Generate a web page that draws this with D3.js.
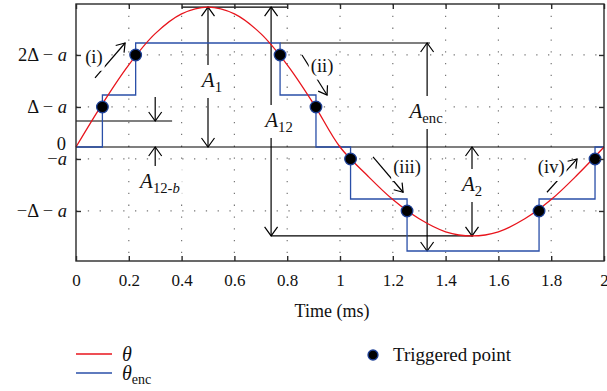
<!DOCTYPE html>
<html><head><meta charset="utf-8">
<script src="https://cdn.jsdelivr.net/npm/d3@7"></script>
<style>
body{margin:0;background:#fff}
svg{display:block}
text{font-family:"Liberation Serif","Times New Roman",serif;fill:#111}
</style></head>
<body><svg id="c" width="607" height="391"></svg>
<script>
// ---------- data ----------
const xTickValues = [0, 0.2, 0.4, 0.6, 0.8, 1, 1.2, 1.4, 1.6, 1.8, 2];
const xTickLabels = ["0", "0.2", "0.4", "0.6", "0.8", "1", "1.2", "1.4", "1.6", "1.8", "2"];
const aOffset = 0.23;
const yTickValues = [2 - aOffset, 1 - aOffset, -aOffset, -1 - aOffset];
const yTickPrefix = ["2Δ − ", "Δ − ", "−", "−Δ − "];
// theta (red), in units of Δ
const thetaTime = [0, 0.1, 0.2, 0.3, 0.4, 0.5, 0.6, 0.7, 0.8, 0.9, 1.0, 1.1, 1.2, 1.3, 1.4, 1.5, 1.6, 1.7, 1.8, 1.9, 2.0];
const thetaValue = [0, 0.83, 1.58, 2.18, 2.56, 2.69, 2.56, 2.18, 1.58, 0.83, 0, -0.53, -1.01, -1.38, -1.63, -1.71, -1.63, -1.38, -1.01, -0.53, 0];
// theta_enc (blue) step signal
const encTime = [0, 0.1, 0.226, 0.773, 0.909, 1.04, 1.254, 1.754, 1.966, 2.0];
const encLevel = [0, 1, 2, 1, 0, -1, -2, -1, 0, 0];
// triggered points
const trigTime = [0.1, 0.226, 0.773, 0.909, 1.04, 1.254, 1.754, 1.966];
const trigValue = [0.77, 1.77, 1.77, 0.77, -0.23, -1.23, -1.23, -0.23];
// annotation values
const peakValue = 2.69, troughValue = -1.71;

// ---------- layout ----------
const svg = d3.select("#c");
const L = 76, R = 604, T = 4, B = 261;
const x = d3.scaleLinear().domain([0, 2]).range([L, R]);
const y = d3.scaleLinear().domain([-2.192, 2.75]).range([B, T]);
const red = "#e8141c", blue = "#2a4fa8";

// grid
const grid = svg.append("g");
xTickValues.slice(1, -1).forEach(t => grid.append("line")
  .attr("x1", x(t)).attr("x2", x(t)).attr("y1", T).attr("y2", B)
  .attr("stroke", "#777").attr("stroke-width", 1.2).attr("stroke-dasharray", "1.3,10.5"));
yTickValues.forEach(v => grid.append("line")
  .attr("x1", L).attr("x2", R).attr("y1", y(v)).attr("y2", y(v))
  .attr("stroke", "#777").attr("stroke-width", 1.2).attr("stroke-dasharray", "1.3,10.5"));

// annotation lines
const ann = svg.append("g").attr("stroke", "#000").attr("stroke-width", 1.2).attr("fill", "none");
const hLines = [
  [0, 2, 0], [0.4, 0.8, peakValue], [0, 0.364, 0.5], [0.773, 1.341, 2], [0.739, 1.505, troughValue]
];
hLines.forEach(([t1, t2, v]) => ann.append("line")
  .attr("x1", x(t1)).attr("x2", x(t2)).attr("y1", y(v)).attr("y2", y(v)));

function arrowHead(g, x1, y1, x2, y2, len = 8, half = 6) {
  const dx = x2 - x1, dy = y2 - y1, d = Math.hypot(dx, dy);
  const ux = dx / d, uy = dy / d;
  const bx = x2 - ux * len, by = y2 - uy * len;
  g.append("path").attr("d",
    `M${bx - uy * half},${by + ux * half}L${x2},${y2}L${bx + uy * half},${by - ux * half}`);
}
function arrow(t1, v1, t2, v2, both, len, half) {
  const X1 = x(t1), Y1 = y(v1), X2 = x(t2), Y2 = y(v2);
  ann.append("line").attr("x1", X1).attr("y1", Y1).attr("x2", X2).attr("y2", Y2);
  arrowHead(ann, X1, Y1, X2, Y2, len, half);
  if (both) arrowHead(ann, X2, Y2, X1, Y1, len, half);
}
// vertical measurement arrows
arrow(0.5, 0, 0.5, peakValue, true, 9, 6.5);          // A1
arrow(0.739, troughValue, 0.739, peakValue, true, 9, 6.5); // A12
arrow(1.33, -2, 1.33, 2, true, 9, 6.5);               // Aenc
arrow(1.5, 0, 1.5, troughValue, true, 9, 6.5);        // A2
arrow(0.3, 0.96, 0.3, 0.5, false, 9, 6.5);            // A12-b top
arrow(0.3, -0.44, 0.3, 0, false, 9, 6.5);             // A12-b bottom
// direction arrows
arrow(0.072, 1.33, 0.186, 2.0, false, 8, 5.5);   // (i)
arrow(0.856, 1.77, 0.951, 1.0, false, 8, 5.5);   // (ii)
arrow(1.125, -0.19, 1.239, -0.87, false, 8, 5.5); // (iii)
arrow(1.784, -0.87, 1.898, -0.23, false, 8, 5.5); // (iv)

// label backgrounds + labels
const bgLayer = svg.append("g");
const txtLayer = svg.append("g");
function label(t, v, main, sub, size, subItalicPart) {
  const tx = txtLayer.append("text").attr("x", x(t)).attr("y", y(v))
    .attr("text-anchor", "middle").attr("font-size", size);
  if (sub === null) {
    tx.text(main);
  } else {
    tx.append("tspan").attr("font-style", "italic").text(main);
    tx.append("tspan").attr("font-size", size * 0.7).attr("dy", 5).text(sub);
    if (subItalicPart) tx.append("tspan").attr("font-size", size * 0.7).attr("font-style", "italic").text(subItalicPart);
  }
  const bb = tx.node().getBBox();
  bgLayer.append("rect").attr("x", bb.x - 2).attr("y", bb.y - 3)
    .attr("width", bb.width + 4).attr("height", bb.height + 6).attr("fill", "#fff");
}
label(0.515, 1.154, "A", "1", 21);
label(0.769, 0.385, "A", "12", 21);
label(1.326, 0.558, "A", "enc", 21);
label(1.5, -0.846, "A", "2", 21);
label(0.318, -0.788, "A", "12-", 21, "b");
label(0.068, 1.62, "(i)", null, 18.5);
label(0.932, 1.45, "(ii)", null, 18.5);
label(1.254, -0.5, "(iii)", null, 18.5);
label(1.80, -0.5, "(iv)", null, 18.5);

// curves
const plot = svg.append("g");
plot.append("path")
  .attr("d", d3.line().x(i => x(encTime[i])).y(i => y(encLevel[i])).curve(d3.curveStepAfter)(d3.range(encTime.length)))
  .attr("fill", "none").attr("stroke", blue).attr("stroke-width", 1.3);
plot.append("path")
  .attr("d", d3.line().x(i => x(thetaTime[i])).y(i => y(thetaValue[i])).curve(d3.curveCatmullRom)(d3.range(thetaTime.length)))
  .attr("fill", "none").attr("stroke", red).attr("stroke-width", 1.3);
plot.selectAll("circle").data(d3.range(trigTime.length)).join("circle")
  .attr("cx", i => x(trigTime[i])).attr("cy", i => y(trigValue[i])).attr("r", 5.8)
  .attr("fill", "#000").attr("stroke", "#1d3f95").attr("stroke-width", 1.3);

// frame + axes
svg.append("rect").attr("x", L).attr("y", T).attr("width", R - L).attr("height", B - T)
  .attr("fill", "none").attr("stroke", "#2a2a2a").attr("stroke-width", 1.4);
const xb = svg.append("g").attr("transform", `translate(0,${B})`)
  .call(d3.axisBottom(x).tickValues(xTickValues).tickSizeInner(-5).tickSizeOuter(0).tickPadding(13)
    .tickFormat((d, i) => xTickLabels[i]));
const xt = svg.append("g").attr("transform", `translate(0,${T})`)
  .call(d3.axisTop(x).tickValues(xTickValues).tickSizeInner(-5).tickSizeOuter(0).tickFormat(""));
const yl = svg.append("g").attr("transform", `translate(${L},0)`)
  .call(d3.axisLeft(y).tickValues(yTickValues).tickSizeInner(-5).tickSizeOuter(0).tickFormat(""));
const yr = svg.append("g").attr("transform", `translate(${R},0)`)
  .call(d3.axisRight(y).tickValues(yTickValues).tickSizeInner(-5).tickSizeOuter(0).tickFormat(""));
[xb, xt, yl, yr].forEach(g => {
  g.select(".domain").remove();
  g.selectAll("line").attr("stroke", "#2a2a2a").attr("stroke-width", 1.4);
  g.selectAll("text").attr("font-family", "Liberation Serif, serif").attr("font-size", 17).attr("fill", "#111");
});

// y tick labels
yTickValues.forEach((v, i) => {
  const t = svg.append("text").attr("x", 67).attr("y", y(v)).attr("dy", "0.33em")
    .attr("text-anchor", "end").attr("font-size", 18.5);
  t.append("tspan").text(yTickPrefix[i]);
  t.append("tspan").attr("font-style", "italic").text("a");
});
svg.append("text").attr("x", 66).attr("y", y(0) + 3).attr("text-anchor", "end").attr("font-size", 18.5).text("0");

// x label
svg.append("text").attr("x", x(1) - 8).attr("y", 317).attr("text-anchor", "middle").attr("font-size", 18).text("Time (ms)");

// legend
const lg = svg.append("g");
lg.append("line").attr("x1", 76).attr("x2", 112).attr("y1", 354).attr("y2", 354).attr("stroke", red).attr("stroke-width", 1.3);
lg.append("line").attr("x1", 76).attr("x2", 112).attr("y1", 373).attr("y2", 373).attr("stroke", blue).attr("stroke-width", 1.3);
lg.append("text").attr("x", 122).attr("y", 361).attr("font-size", 20).attr("font-style", "italic").text("θ");
const le = lg.append("text").attr("x", 122).attr("y", 380).attr("font-size", 20);
le.append("tspan").attr("font-style", "italic").text("θ");
le.append("tspan").attr("font-size", 14).attr("dy", 4).text("enc");
lg.append("circle").attr("cx", 373).attr("cy", 355).attr("r", 5).attr("fill", "#000").attr("stroke", "#1d3f95").attr("stroke-width", 1.3);
lg.append("text").attr("x", 393).attr("y", 361).attr("font-size", 19).text("Triggered point");
</script>
</body></html>
